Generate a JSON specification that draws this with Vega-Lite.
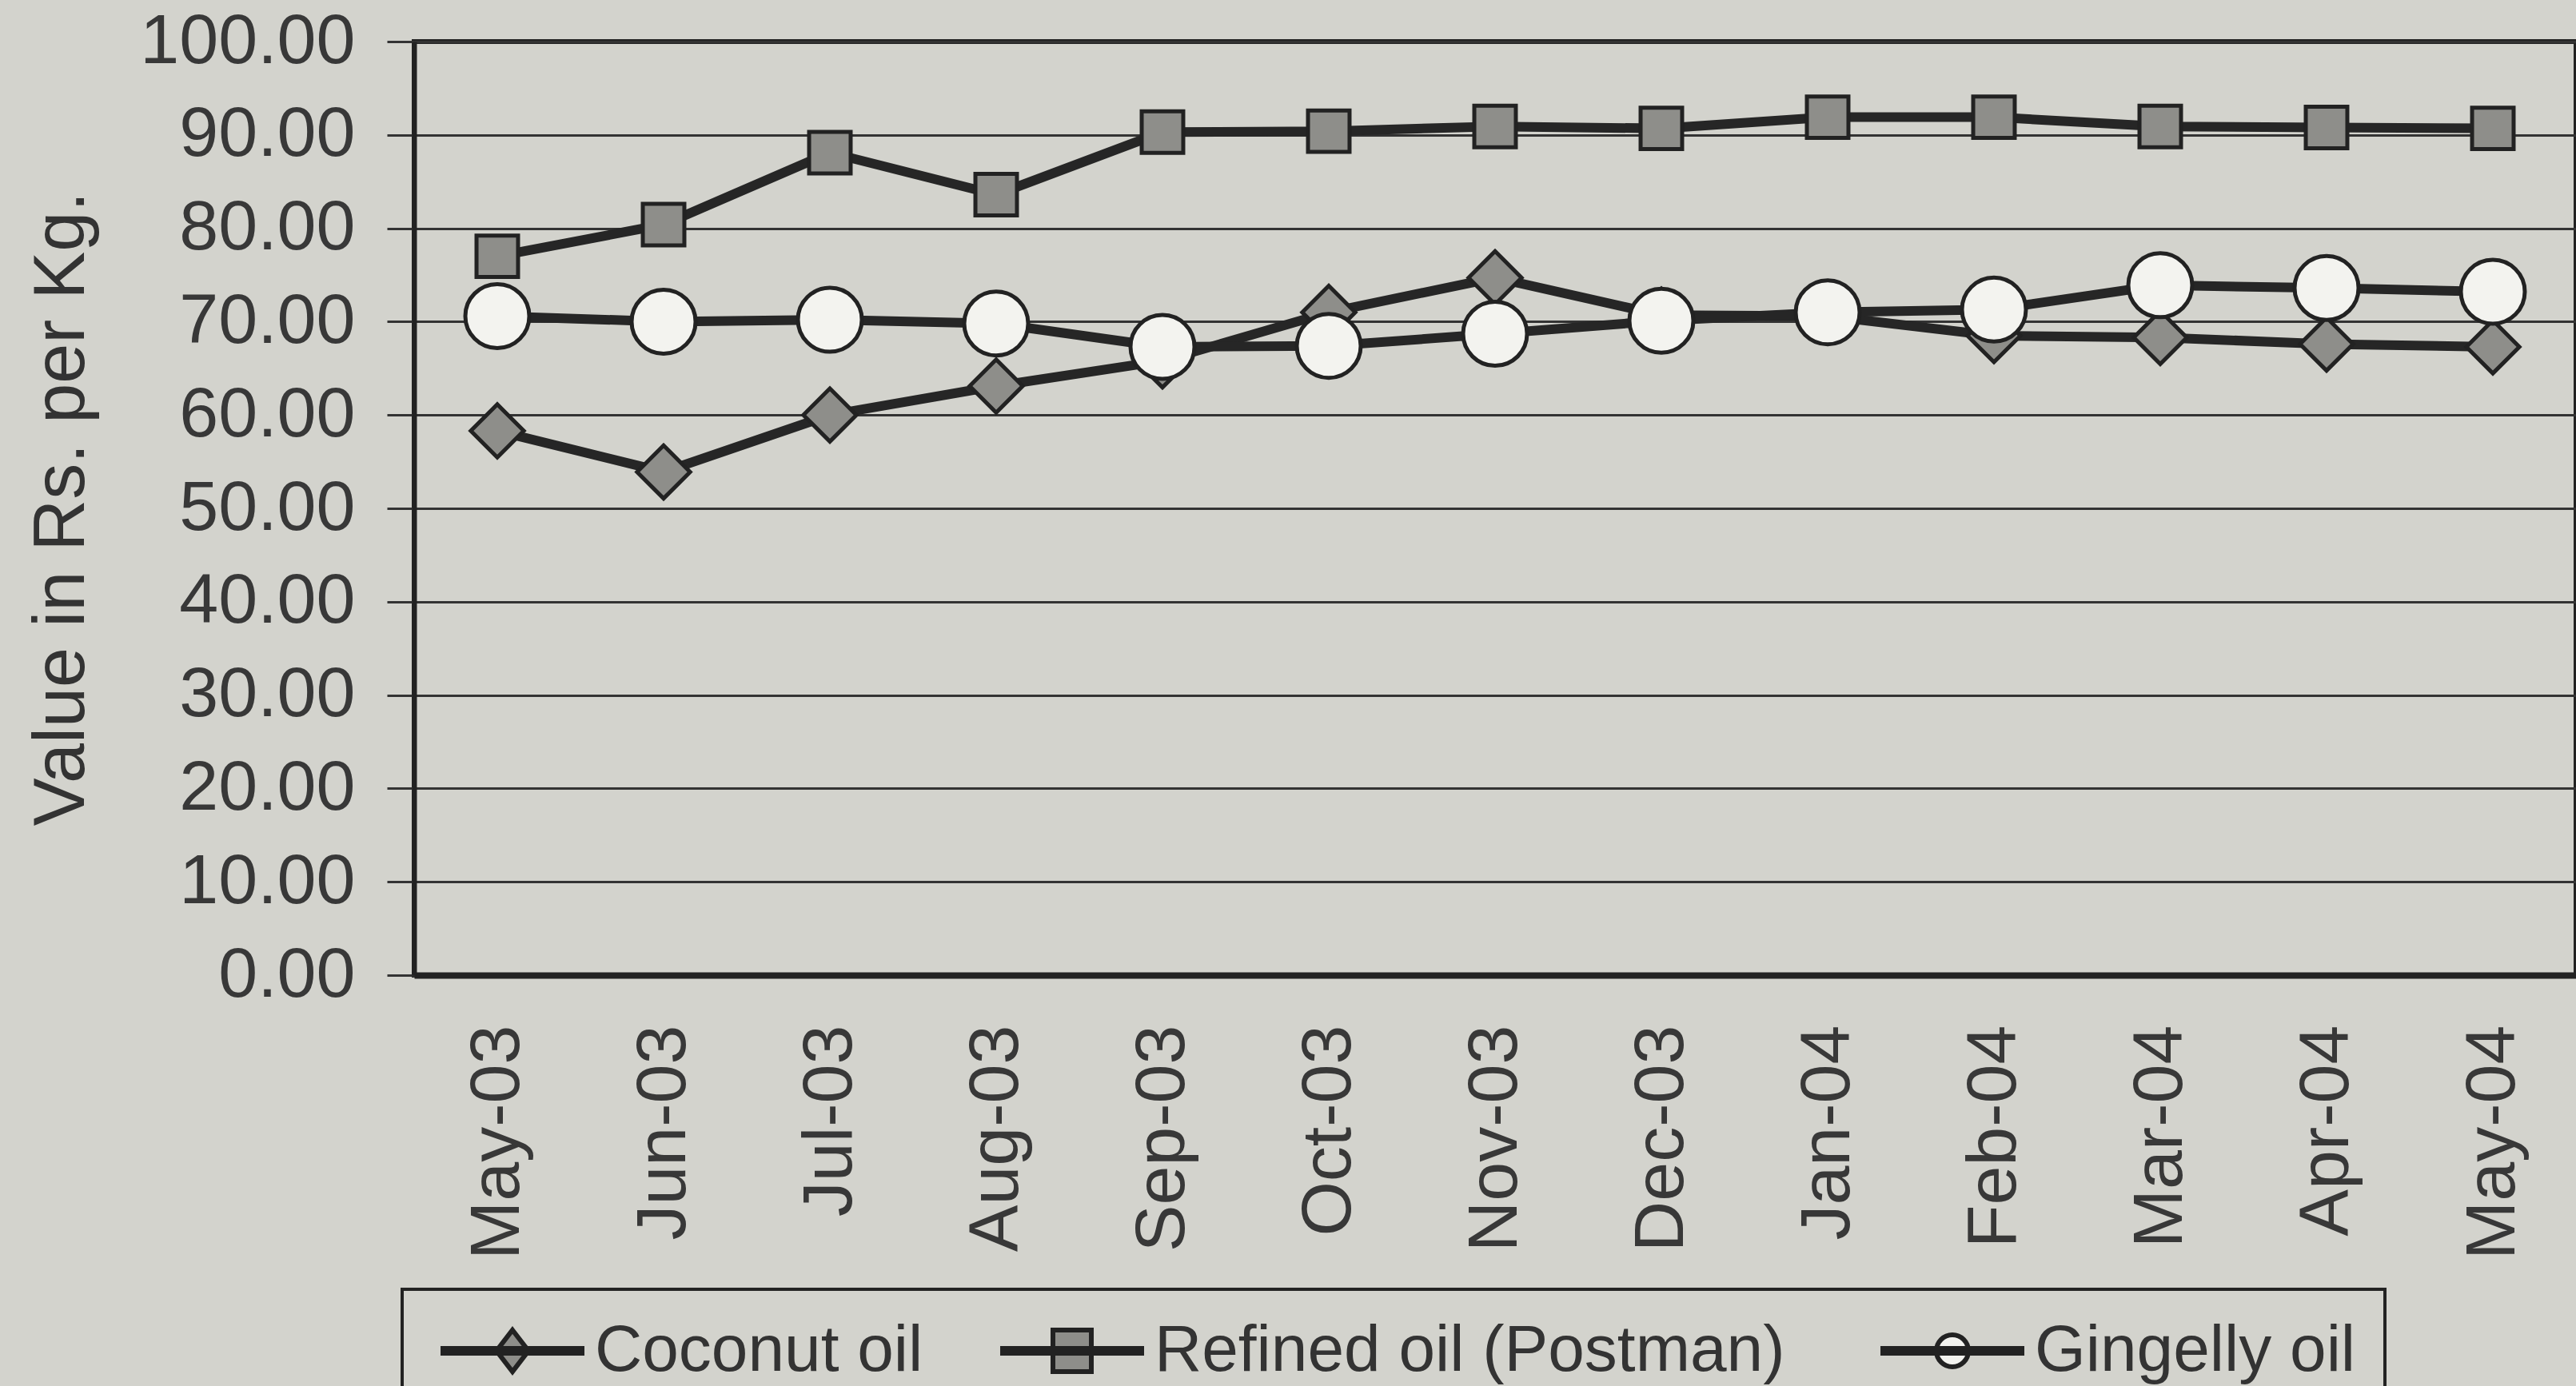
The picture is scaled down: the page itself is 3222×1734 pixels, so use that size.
{
  "$schema": "https://vega.github.io/schema/vega-lite/v6.json",
  "width": 2704,
  "height": 1168,
  "autosize": {"type": "none"},
  "padding": {"left": 518, "top": 52, "right": 0, "bottom": 514},
  "background": "#d3d3cd",
  "config": {
    "font": "Liberation Sans",
    "view": {"stroke": "#222222", "strokeWidth": 6},
    "legend": {"strokeColor": "#222222", "strokeWidth": 4}
  },
  "data": {
    "values": [
      {"month": "May-03", "series": "Coconut oil", "value": 58.3},
      {"month": "Jun-03", "series": "Coconut oil", "value": 53.9},
      {"month": "Jul-03", "series": "Coconut oil", "value": 60.0},
      {"month": "Aug-03", "series": "Coconut oil", "value": 63.1},
      {"month": "Sep-03", "series": "Coconut oil", "value": 65.8},
      {"month": "Oct-03", "series": "Coconut oil", "value": 71.0},
      {"month": "Nov-03", "series": "Coconut oil", "value": 74.7},
      {"month": "Dec-03", "series": "Coconut oil", "value": 70.7},
      {"month": "Jan-04", "series": "Coconut oil", "value": 70.6},
      {"month": "Feb-04", "series": "Coconut oil", "value": 68.5},
      {"month": "Mar-04", "series": "Coconut oil", "value": 68.3},
      {"month": "Apr-04", "series": "Coconut oil", "value": 67.6},
      {"month": "May-04", "series": "Coconut oil", "value": 67.3},
      {"month": "May-03", "series": "Refined oil  (Postman)", "value": 77.0},
      {"month": "Jun-03", "series": "Refined oil  (Postman)", "value": 80.4},
      {"month": "Jul-03", "series": "Refined oil  (Postman)", "value": 88.1},
      {"month": "Aug-03", "series": "Refined oil  (Postman)", "value": 83.6},
      {"month": "Sep-03", "series": "Refined oil  (Postman)", "value": 90.3},
      {"month": "Oct-03", "series": "Refined oil  (Postman)", "value": 90.4},
      {"month": "Nov-03", "series": "Refined oil  (Postman)", "value": 90.9},
      {"month": "Dec-03", "series": "Refined oil  (Postman)", "value": 90.7},
      {"month": "Jan-04", "series": "Refined oil  (Postman)", "value": 91.9},
      {"month": "Feb-04", "series": "Refined oil  (Postman)", "value": 91.9},
      {"month": "Mar-04", "series": "Refined oil  (Postman)", "value": 90.9},
      {"month": "Apr-04", "series": "Refined oil  (Postman)", "value": 90.8},
      {"month": "May-04", "series": "Refined oil  (Postman)", "value": 90.7},
      {"month": "May-03", "series": "Gingelly oil", "value": 70.6},
      {"month": "Jun-03", "series": "Gingelly oil", "value": 70.0},
      {"month": "Jul-03", "series": "Gingelly oil", "value": 70.2},
      {"month": "Aug-03", "series": "Gingelly oil", "value": 69.8},
      {"month": "Sep-03", "series": "Gingelly oil", "value": 67.3},
      {"month": "Oct-03", "series": "Gingelly oil", "value": 67.4},
      {"month": "Nov-03", "series": "Gingelly oil", "value": 68.7},
      {"month": "Dec-03", "series": "Gingelly oil", "value": 70.1},
      {"month": "Jan-04", "series": "Gingelly oil", "value": 71.0},
      {"month": "Feb-04", "series": "Gingelly oil", "value": 71.3},
      {"month": "Mar-04", "series": "Gingelly oil", "value": 73.9},
      {"month": "Apr-04", "series": "Gingelly oil", "value": 73.6},
      {"month": "May-04", "series": "Gingelly oil", "value": 73.2}
    ]
  },
  "encoding": {
    "x": {
      "field": "month",
      "type": "ordinal",
      "sort": ["May-03", "Jun-03", "Jul-03", "Aug-03", "Sep-03", "Oct-03", "Nov-03", "Dec-03", "Jan-04", "Feb-04", "Mar-04", "Apr-04", "May-04"],
      "axis": {
        "title": null,
        "labelAngle": -90,
        "labelFontSize": 88,
        "labelLimit": 0,
        "labelColor": "#383838",
        "labelPadding": 62,
        "ticks": false,
        "domainColor": "#222222",
        "domainWidth": 8,
        "grid": false
      }
    },
    "y": {
      "field": "value",
      "type": "quantitative",
      "scale": {"domain": [0, 100], "nice": false},
      "axis": {
        "title": "Value in Rs. per Kg.",
        "titleFontSize": 90,
        "titleFontWeight": "normal",
        "titleColor": "#333333",
        "titlePadding": 195,
        "values": [0, 10, 20, 30, 40, 50, 60, 70, 80, 90, 100],
        "format": ".2f",
        "labelFontSize": 88,
        "labelLimit": 0,
        "labelColor": "#383838",
        "labelPadding": 40,
        "tickSize": 34,
        "tickColor": "#333333",
        "tickWidth": 3,
        "domainColor": "#222222",
        "domainWidth": 6,
        "grid": true,
        "gridColor": "#333333",
        "gridWidth": 3,
        "gridOpacity": 1
      }
    }
  },
  "layer": [
    {
      "mark": {"type": "line", "strokeWidth": 12, "color": "#262626"},
      "encoding": {"detail": {"field": "series"}}
    },
    {
      "mark": {"type": "point", "filled": true, "stroke": "#222222", "strokeWidth": 5, "opacity": 1},
      "encoding": {
        "shape": {
          "condition": [
            {"test": "datum.series === 'Coconut oil'", "value": "diamond"},
            {"test": "datum.series === 'Gingelly oil'", "value": "circle"}
          ],
          "value": "square"
        },
        "size": {
          "condition": [
            {"test": "datum.series === 'Gingelly oil'", "value": 6400},
            {"test": "datum.series === 'Coconut oil'", "value": 4400}
          ],
          "value": 2700
        },
        "fill": {
          "condition": [
            {"test": "datum.series === 'Gingelly oil'", "value": "#f3f3ef"}
          ],
          "value": "#8e8e8a"
        }
      }
    },
    {
      "transform": [{"filter": "false"}],
      "mark": {"type": "point", "filled": true, "stroke": "#222222", "strokeWidth": 6, "opacity": 1},
      "encoding": {
        "shape": {
          "field": "series",
          "type": "nominal",
          "scale": {
            "domain": ["Coconut oil", "Refined oil  (Postman)", "Gingelly oil"],
            "range": [
              "M-4.35,-0.15H4.35V0.15H-4.35ZM0,-1.3L1,0L0,1.3L-1,0Z",
              "M-4.35,-0.15H4.35V0.15H-4.35ZM-1.2,-1.3H1.2V1.3H-1.2Z",
              "M-4.35,-0.15H4.35V0.15H-4.35ZM-1,0A1,1 0 1,1 1,0A1,1 0 1,1 -1,0Z"
            ]
          }
        },
        "fill": {
          "field": "series",
          "type": "nominal",
          "scale": {"domain": ["Coconut oil", "Refined oil  (Postman)", "Gingelly oil"], "range": ["#8e8e8a", "#8e8e8a", "#f3f3ef"]},
          "legend": {
            "orient": "none",
            "legendX": -15,
            "legendY": 1561,
            "direction": "horizontal",
            "title": null,
            "labelFontSize": 82,
            "labelLimit": 0,
            "labelColor": "#333333",
            "symbolSize": 1600,
            "symbolStrokeWidth": 6,
            "symbolStrokeColor": "#222222",
            "symbolOpacity": 1,
            "symbolOffset": 61,
            "labelOffset": 62,
            "columnPadding": 84,
            "padding": 36,
            "strokeColor": "#222222"
          }
        }
      }
    }
  ]
}
